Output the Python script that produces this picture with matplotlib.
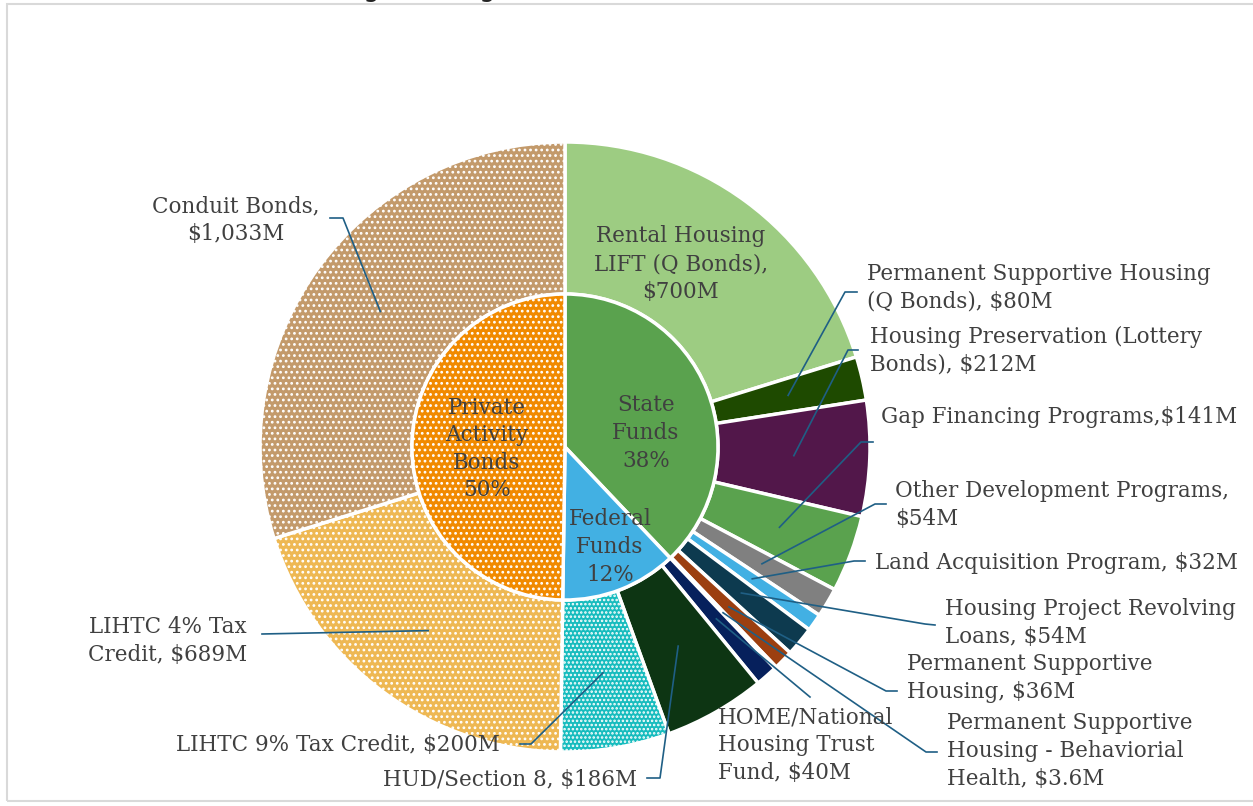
import matplotlib.pyplot as plt
from matplotlib.patches import Rectangle
import numpy as np

# outer ring: programs ($M), clockwise from 12 o'clock
prog_names = [
    'Rental Housing\nLIFT (Q Bonds),\n$700M',
    'Permanent Supportive Housing\n(Q Bonds), $80M',
    'Housing Preservation (Lottery\nBonds), $212M',
    'Gap Financing Programs,$141M',
    'Other Development Programs,\n$54M',
    'Land Acquisition Program, $32M',
    'Housing Project Revolving\nLoans, $54M',
    'Permanent Supportive\nHousing, $36M',
    'Permanent Supportive\nHousing - Behaviorial\nHealth, $3.6M',
    'HOME/National\nHousing Trust\nFund, $40M',
    'HUD/Section 8, $186M',
    'LIHTC 9% Tax Credit, $200M',
    'LIHTC 4% Tax\nCredit, $689M',
    'Conduit Bonds,\n$1,033M',
]
prog_values = [700, 80, 212, 141, 54, 32, 54, 36, 3.6, 40, 186, 200, 689, 1033]
prog_group = [0, 0, 0, 0, 0, 0, 0, 0, 0, 1, 1, 1, 2, 2]
prog_colors = ['#9DCC82', '#1E4A00', '#52174A', '#5AA24E', '#808080', '#42B0E3',
               '#0D3A4F', '#9C3F10', '#2E75B6', '#06205C', '#0D3513', '#17BCBE',
               '#EEB853', '#C39A6B']
prog_hatch = [''] * 11 + ['....', '...', '...']

# inner ring: funding source
group_names = ['State\nFunds\n38%', 'Federal\nFunds\n12%', 'Private\nActivity\nBonds\n50%']
group_colors = ['#5AA24E', '#42B0E3', '#F18A00']
group_hatch = ['', '', '...']
group_values = [sum(v for v, g in zip(prog_values, prog_group) if g == i) for i in range(3)]

W, H = 1253, 806
def py(y):
    return H - y

plt.rcParams['hatch.linewidth'] = 1.2
fig = plt.figure(figsize=(W / 100, H / 100), dpi=100)
ax = fig.add_axes([0, 0, 1, 1])

cx, cy = 565, py(447)
r_out, r_in = 305, 153
text_col = '#404040'
line_col = '#1F5F85'
serif = 'DejaVu Serif'
fs = 15.5
lsp = 1.33

outer, _ = ax.pie(prog_values, radius=r_out, center=(cx, cy), startangle=90,
                  counterclock=False, colors=prog_colors,
                  wedgeprops=dict(width=r_out - r_in, edgecolor='white', linewidth=2.5))
for w, h in zip(outer, prog_hatch):
    w.set_hatch(h)

inner, _ = ax.pie(group_values, radius=r_in, center=(cx, cy), startangle=90,
                  counterclock=False, colors=group_colors,
                  wedgeprops=dict(edgecolor='white', linewidth=2.5))
for w, h in zip(inner, group_hatch):
    w.set_hatch(h)

# label layout (pixel coords): text pos, alignment, leader elbow, leader end
layout = [
    ((681, 264), 'center', None, None),
    ((867, 288), 'left', (845, 292), (857, 292)),
    ((870, 351), 'left', (848, 350), (858, 350)),
    ((881, 417), 'left', (861, 442), (873, 442)),
    ((895, 505), 'left', (875, 504), (886, 504)),
    ((875, 563), 'left', (854, 561), (865, 561)),
    ((945, 623), 'left', (925, 624), (935, 625)),
    ((907, 678), 'left', (886, 691), (897, 691)),
    ((947, 751), 'left', (926, 752), (937, 752)),
    ((718, 745), 'left', (810, 697), (810, 697)),
    ((637, 780), 'right', (660, 778), (647, 778)),
    ((500, 745), 'right', (531, 744), (520, 744)),
    ((168, 641), 'center', (262, 634), (262, 634)),
    ((236, 220), 'center', (343, 218), (330, 218)),
]

r_mid = r_out - (r_out - r_in) / 2
for w, name, (pos, ha, elbow, end) in zip(outer, prog_names, layout):
    ax.text(pos[0], py(pos[1]), name, ha=ha, va='center', ma=ha,
            fontsize=fs, family=serif, color=text_col, linespacing=lsp)
    if elbow is not None:
        t = np.deg2rad((w.theta1 + w.theta2) / 2)
        ax.plot([cx + r_mid * np.cos(t), elbow[0], end[0]],
                [cy + r_mid * np.sin(t), py(elbow[1]), py(end[1])],
                color=line_col, lw=1.2)

inner_pos = [(646, 433), (610, 547), (487, 449)]
for name, pos in zip(group_names, inner_pos):
    ax.text(pos[0], py(pos[1]), name, ha='center', va='center', fontsize=fs,
            family=serif, color=text_col, linespacing=lsp)

# frame and cut-off title
ax.add_patch(Rectangle((7, py(801)), 1250, 797, fill=False, edgecolor='#D9D9D9', lw=1.5))
ax.text(275, py(-4), 'Funding Housing (2023-2025)', ha='left', va='baseline',
        fontsize=19, color='#222222', family='DejaVu Sans')

ax.set_xlim(0, W)
ax.set_ylim(0, H)
ax.axis('off')
fig.savefig('out.png', dpi=100)
